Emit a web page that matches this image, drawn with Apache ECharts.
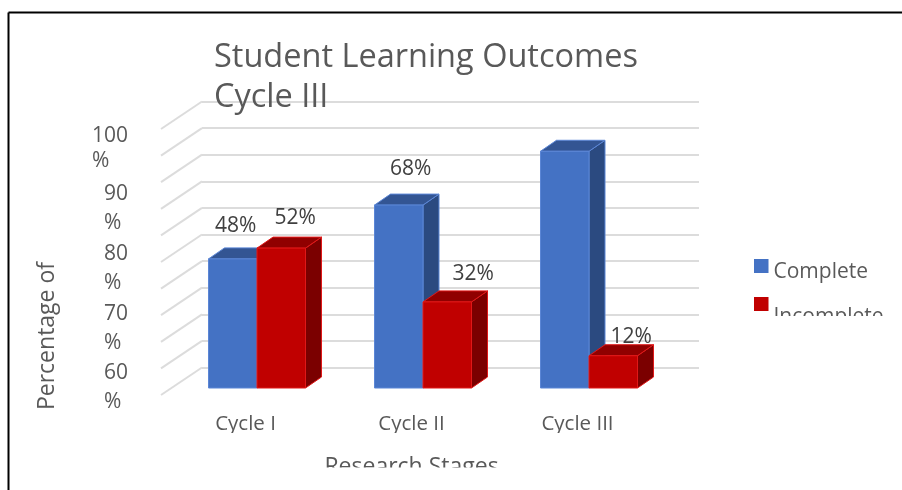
<!DOCTYPE html>
<html><head><meta charset="utf-8">
<script src="https://cdn.jsdelivr.net/npm/echarts@6/dist/echarts.min.js"></script>
<style>html,body{margin:0;padding:0;background:#fff}#c{width:902px;height:490px}</style>
</head><body><div id="c"></div>
<script>
const titleLines = ['Student Learning Outcomes', 'Cycle III'];
const categories = ['Cycle I', 'Cycle II', 'Cycle III'];
const complete = [48, 68, 88];
const incomplete = [52, 32, 12];
const wallTicks = [0, 10, 20, 30, 40, 50, 60, 70, 80, 90, 100];
const xTitle = 'Research Stages';
const yTitle = 'Percentage of';
// vertical shift of each printed data label above its bar, null = not printed
const completeLabelLift = [33, 36, null];
const incompleteLabelLift = [30, 28, 19];
const completeLabelShift = [3, 12, 0];
const incompleteLabelShift = [14, 26, 18];

const FONT = '"Open Sans"';
const GREY = '#595959';
const BAR_W = 48.5, DX = 16, DY = -11, GROUP_SHIFT = 11.5;

function barRender(side, faces, lifts, shifts) {
  return function (params, api) {
    const i = api.value(0), v = api.value(1);
    const top = api.coord([i, v]), base = api.coord([i, 0]);
    const x0 = top[0] + GROUP_SHIFT + (side === 0 ? -BAR_W : 0), x1 = x0 + BAR_W;
    const yT = top[1], yB = base[1];
    const edge = { stroke: faces.edge, lineWidth: 1 };
    const poly = (pts, fill) => ({ type: 'polygon', shape: { points: pts }, style: { fill, ...edge } });
    const kids = [
      poly([[x1, yT], [x1 + DX, yT + DY], [x1 + DX, yB + DY], [x1, yB]], faces.side),
      poly([[x0, yT], [x0 + DX, yT + DY], [x1 + DX, yT + DY], [x1, yT]], faces.top),
      poly([[x0, yT], [x1, yT], [x1, yB], [x0, yB]], faces.front)
    ];
    if (lifts[i] !== null) {
      kids.push({ type: 'text', z2: 50, style: {
        text: v + '%', x: (x0 + x1) / 2 + shifts[i], y: yT - lifts[i],
        textAlign: 'center', textVerticalAlign: 'middle',
        font: '21px ' + FONT, fill: '#404040' } });
    }
    return { type: 'group', children: kids };
  };
}

const chart = echarts.init(document.getElementById('c'), null, { renderer: 'canvas' });
const pairs = a => a.map((v, i) => [i, v]);
chart.setOption({
  animation: false,
  backgroundColor: '#fff',
  title: {
    text: titleLines.join('\n'), left: 209, top: 33,
    textStyle: { fontFamily: FONT, fontSize: 32.5, fontWeight: 'normal', color: GREY, lineHeight: 40 }
  },
  legend: {
    orient: 'vertical', left: 749, top: 247, itemWidth: 14.5, itemHeight: 40, itemGap: 5,
    textStyle: { fontFamily: FONT, fontSize: 21, color: GREY, lineHeight: 28 },
    data: [
      { name: 'Complete', icon: 'path://M0,7H14.5V21H0ZM0,0L0,0ZM0,40L0,40Z' },
      { name: 'Incomplete', icon: 'path://M0,0H14.5V14H0ZM0,40L0,40Z' }
    ]
  },
  grid: [
    { left: 162.5, width: 498, top: 119, height: 269 },
    { left: 202, width: 497, top: 101.5, height: 266 },
    { left: 128, width: 10, top: 149, height: 239 }
  ],
  xAxis: [
    { gridIndex: 0, type: 'category', data: categories, axisLine: { show: false }, axisTick: { show: false },
      axisLabel: { fontFamily: FONT, fontSize: 20.5, color: GREY, margin: 26 },
      name: xTitle, nameLocation: 'middle', nameGap: 68,
      nameTextStyle: { fontFamily: FONT, fontSize: 23, color: GREY } },
    { gridIndex: 1, type: 'value', min: 0, max: 1, show: false },
    { gridIndex: 2, type: 'value', min: 0, max: 1, show: false }
  ],
  yAxis: [
    { gridIndex: 0, type: 'value', min: 0, max: 100, show: false },
    { gridIndex: 1, type: 'value', min: 0, max: 100, interval: 10,
      axisLine: { show: false }, axisTick: { show: false }, axisLabel: { show: false },
      splitLine: { show: true, lineStyle: { color: '#dcdcdc', width: 2 } } },
    { gridIndex: 2, type: 'value', min: 60, max: 100, interval: 10,
      axisLine: { show: false }, axisTick: { show: false }, splitLine: { show: false },
      axisLabel: { margin: 0, align: 'right',
        formatter: v => v === 100 ? `{n3|${v}}\n{p3|%}` : `{n2|${v}}\n{p2|%}`,
        rich: {
          n3: { fontFamily: FONT, fontSize: 21, color: GREY, lineHeight: 25 },
          p3: { fontFamily: FONT, fontSize: 21, color: GREY, lineHeight: 25, width: 36, align: 'left' },
          n2: { fontFamily: FONT, fontSize: 21, color: GREY, lineHeight: 29 },
          p2: { fontFamily: FONT, fontSize: 21, color: GREY, lineHeight: 29, width: 24, align: 'left' }
        } } }
  ],
  series: [
    { type: 'custom', name: 'floorLines', xAxisIndex: 1, yAxisIndex: 1, silent: true, z: 1,
      data: wallTicks.map(v => [0, v]), encode: { x: 0, y: 1 },
      renderItem: (p, api) => {
        const a = api.coord([0, api.value(1)]);
        return { type: 'line', shape: { x1: a[0], y1: a[1], x2: a[0] - 41, y2: a[1] + 27.5 },
                 style: { stroke: '#dcdcdc', lineWidth: 2 } };
      } },
    { type: 'custom', name: 'Complete', xAxisIndex: 0, yAxisIndex: 0, z: 3,
      itemStyle: { color: '#4472C4' }, data: pairs(complete), encode: { x: 0, y: 1 },
      renderItem: barRender(0, { front: '#4472C4', top: '#335593', side: '#2B4A80', edge: '#5B86D6' }, completeLabelLift, completeLabelShift) },
    { type: 'custom', name: 'Incomplete', xAxisIndex: 0, yAxisIndex: 0, z: 4,
      itemStyle: { color: '#C00000' }, data: pairs(incomplete), encode: { x: 0, y: 1 },
      renderItem: barRender(1, { front: '#C00000', top: '#900000', side: '#7B0000', edge: '#E01818' }, incompleteLabelLift, incompleteLabelShift) },
    { type: 'custom', name: 'yLabels', xAxisIndex: 2, yAxisIndex: 2, silent: true, data: [], renderItem: () => null }
  ],
  graphic: [
    { type: 'line', z: 100, shape: { x1: 8.5, y1: 12.5, x2: 902, y2: 12.5 }, style: { stroke: '#000', lineWidth: 2 } },
    { type: 'line', z: 100, shape: { x1: 8.5, y1: 12.5, x2: 8.5, y2: 490 }, style: { stroke: '#000', lineWidth: 2 } },
    { type: 'text', z: 100, x: 47, y: 336, rotation: Math.PI / 2,
      style: { text: yTitle, font: '23px ' + FONT, fill: GREY, textAlign: 'center', textVerticalAlign: 'middle' } },
    // the reference clips these texts at the bottom of their boxes
    { type: 'rect', z: 100, shape: { x: 200, y: 433, width: 440, height: 17 }, style: { fill: '#fff' } },
    { type: 'rect', z: 100, shape: { x: 300, y: 467.5, width: 220, height: 20 }, style: { fill: '#fff' } },
    { type: 'rect', z: 100, shape: { x: 772, y: 316, width: 125, height: 20 }, style: { fill: '#fff' } }
  ]
});
</script></body></html>
